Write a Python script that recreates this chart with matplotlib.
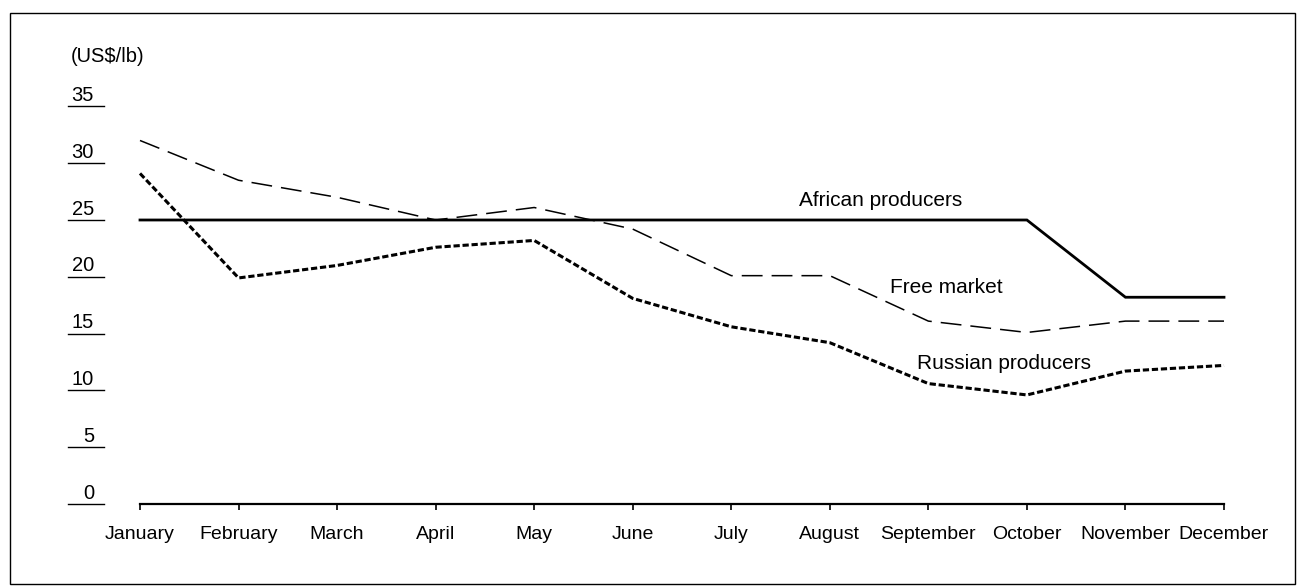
import matplotlib
matplotlib.use("Agg")
import matplotlib.pyplot as plt
from matplotlib.patches import Rectangle
from matplotlib.transforms import blended_transform_factory

plt.rcParams["font.family"] = ["Liberation Sans", "DejaVu Sans"]
plt.rcParams["lines.scale_dashes"] = False

# 数据（US$/lb）
months = ["January", "February", "March", "April", "May", "June", "July",
          "August", "September", "October", "November", "December"]
african = [25, 25, 25, 25, 25, 25, 25, 25, 25, 25, 18.2, 18.2]
free_market = [32.0, 28.5, 27.0, 25.0, 26.1, 24.2, 20.1, 20.1, 16.1, 15.1, 16.1, 16.1]
russian = [29.1, 19.9, 21.0, 22.6, 23.2, 18.1, 15.6, 14.2, 10.6, 9.6, 11.7, 12.2]
y_ticks = [0, 5, 10, 15, 20, 25, 30, 35]

W, H = 1304, 586
fig = plt.figure(figsize=(W / 100, H / 100), dpi=100)

# 坐标轴位置（像素换算成比例）
left, right = 140, 1224
bottom_px = 504
top_px = 504 - 36 * 11.36
ax = fig.add_axes([left / W, (H - bottom_px) / H, (right - left) / W, (bottom_px - top_px) / H])

x = list(range(len(months)))
ax.plot(x, african, color="black", lw=2.0, clip_on=False, solid_joinstyle="miter")
ax.plot(x, free_market, color="black", lw=1.1, dashes=(15, 6.5), clip_on=False)
ax.plot(x, russian, color="black", lw=2.2, dashes=(4.5, 2), clip_on=False)

ax.set_xlim(0, len(months) - 1)
ax.set_ylim(0, 36)
ax.set_xticks(x)
ax.set_xticklabels(months, fontsize=14)
ax.tick_params(axis="x", direction="out", length=4, width=1.2, pad=12)
ax.set_yticks([])
for s in ["top", "right", "left"]:
    ax.spines[s].set_visible(False)
ax.spines["bottom"].set_linewidth(1.6)

# 带下划线的 y 轴刻度
trans = blended_transform_factory(fig.transFigure, ax.transData)
for v in y_ticks:
    ax.plot([68 / W, 104 / W], [v, v], color="black", lw=1.0, transform=trans, clip_on=False)
    ax.text(94 / W, v + 0.12, str(v), transform=trans, ha="right", va="bottom", fontsize=14.5)
fig.text(71 / W, 1 - 57 / H, "(US$/lb)", ha="left", va="center", fontsize=14.5)

# 线条标注
ax.text(7.52, 26.7, "African producers", ha="center", va="center", fontsize=15)
ax.text(7.61, 19.1, "Free market", ha="left", va="center", fontsize=15)
ax.text(7.88, 12.4, "Russian producers", ha="left", va="center", fontsize=15)

# 外框
fig.patches.append(Rectangle((10 / W, 1 - 584 / H), 1285 / W, 571 / H, transform=fig.transFigure,
                             fill=False, edgecolor="black", lw=1.0))

fig.savefig("out.png", dpi=100)
